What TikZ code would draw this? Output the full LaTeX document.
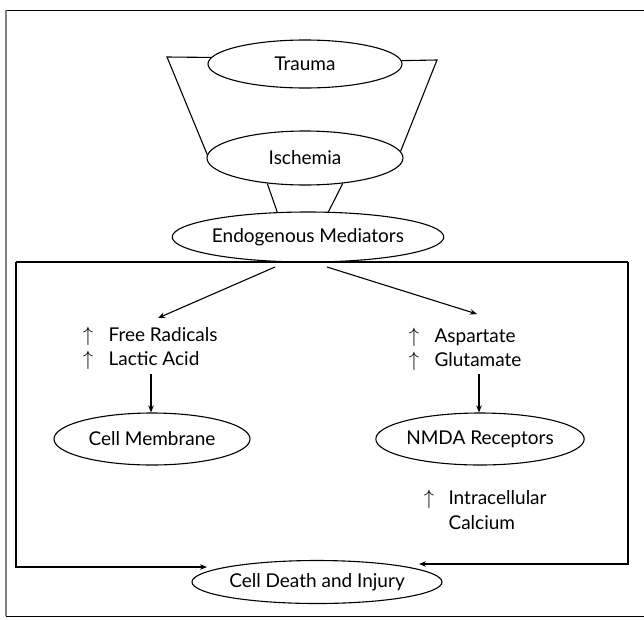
\documentclass[tikz,border=0pt]{standalone}
\usepackage{fontspec}
\setmainfont{Lato}
\usetikzlibrary{arrows.meta,shapes.geometric}
\begin{document}
\begin{tikzpicture}[x=1pt,y=-1pt,line width=1.1pt,
  txt/.style={font=\fontsize{19}{22}\selectfont},
  oval/.style={draw,ellipse,inner sep=0pt,line width=1.1pt,txt},
  lbl/.style={inner sep=0pt,anchor=base west,txt},
  upar/.style={inner sep=0pt,anchor=base,font=\fontsize{20}{22}\selectfont},
  arr/.style={-{Stealth[length=7pt,width=5.5pt]}}]
\useasboundingbox (0,0) rectangle (644,619);
% outer frame
\draw[line width=1pt] (644,10) -- (6,10);
\draw[gray,line width=2pt] (6,10) -- (6,616);
\draw[line width=1pt] (6,616) -- (644,616);
% ovals
\node[oval,minimum width=194pt,minimum height=48pt] (trauma) at (305,64) {Trauma};
\node[oval,minimum width=196pt,minimum height=54pt] (isch) at (305,158) {Ischemia};
\node[oval,minimum width=268pt,minimum height=50pt] (endo) at (308,237) {Endogenous Mediators};
\node[oval,minimum width=196pt,minimum height=52pt] (memb) at (152,439) {Cell Membrane};
\node[oval,minimum width=198pt,minimum height=52pt] (nmda) at (480,439) {NMDA Receptors};
\node[oval,minimum width=250pt,minimum height=43pt] (death) at (317,582) {Cell Death and Injury};
% funnel
\coordinate (tl) at (167,57);
\coordinate (tr) at (437,60);
\draw (trauma.176) -- (tl) -- (isch.178);
\draw (trauma.2) -- (tr) -- (isch.4);
\draw (isch.214) -- (endo.141);
\draw (isch.326) -- (endo.51);
% inner frame
\coordinate (ftl) at (16,262);
\coordinate (ftr) at (628,262);
\coordinate (fbl) at (16,567);
\coordinate (fbr) at (628,564);
\coordinate (dl) at (207,567);
\coordinate (dr) at (419,564);
\draw (ftl) -- (ftr);
\draw[arr] (ftl) -- (fbl) -- (dl);
\draw[arr] (ftr) -- (fbr) -- (dr);
% labels
\node[upar] (u1) at (88,341) {$\uparrow$};
\node[lbl] (fr) at (108,341) {Free Radicals};
\node[upar] (u2) at (88,365) {$\uparrow$};
\node[lbl] (la) at (108,365) {Lactic Acid};
\node[upar] (u3) at (414,342) {$\uparrow$};
\node[lbl] (asp) at (434,342) {Aspartate};
\node[upar] (u4) at (414,366) {$\uparrow$};
\node[lbl] (glu) at (434,366) {Glutamate};
\node[upar] (u5) at (429,504) {$\uparrow$};
\node[lbl] (intra) at (448,504) {Intracellular};
\node[lbl] (calc) at (448,529) {Calcium};
% arrows
\coordinate (e1) at (275,267);
\coordinate (e2) at (327,267);
\coordinate (t1) at (158,318);
\coordinate (t2) at (477,314);
\draw[arr] (e1) -- (t1);
\draw[arr] (e2) -- (t2);
\coordinate (s1) at (151,374);
\coordinate (s2) at (479,374);
\draw[arr] (s1) -- (s1 |- memb.north);
\draw[arr] (s2) -- (s2 |- nmda.north);
\end{tikzpicture}
\end{document}
